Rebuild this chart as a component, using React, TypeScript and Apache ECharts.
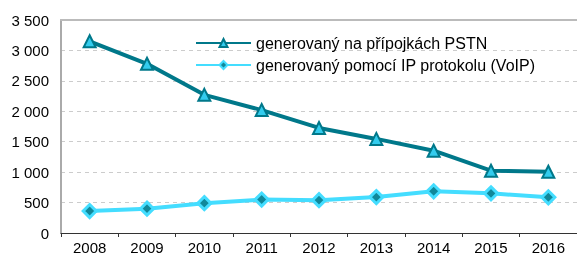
import React, { useEffect, useRef } from "react";
import * as echarts from "echarts";

const categories = ["2008", "2009", "2010", "2011", "2012", "2013", "2014", "2015", "2016"];
const pstnName = "generovaný na přípojkách PSTN";
const voipName = "generovaný pomocí IP protokolu (VoIP)";
const pstnValues = [3150, 2780, 2270, 2020, 1726, 1546, 1352, 1024, 1007];
const voipValues = [361, 400, 490, 550, 540, 590, 685, 652, 587];

const fmt = (v: number) => {
  const s = String(v);
  return s.length > 3 ? s.slice(0, s.length - 3) + " " + s.slice(-3) : s;
};

export default function App() {
  const ref = useRef<HTMLDivElement>(null);
  useEffect(() => {
    if (!ref.current) return;
    const chart = echarts.init(ref.current, undefined, { renderer: "svg" });
    const font = "Liberation Sans, Arial, sans-serif";
    chart.setOption({
      animation: false,
      textStyle: { fontFamily: font },
      grid: { left: 61, right: 0, top: 20, bottom: 24, containLabel: false },
      legend: {
        orient: "vertical",
        left: 190,
        top: 30,
        itemWidth: 55,
        itemHeight: 10,
        itemGap: 6,
        textStyle: { fontSize: 16, color: "#000", fontFamily: font },
        data: [pstnName, voipName],
      },
      xAxis: [
        {
          type: "category",
          data: categories,
          boundaryGap: true,
          axisLine: { lineStyle: { color: "#333", width: 1 } },
          axisTick: { show: true, length: 4, lineStyle: { color: "#333" } },
          axisLabel: { fontSize: 15, color: "#000", margin: 7, fontFamily: font },
          splitLine: { show: false },
        },
        {
          type: "category",
          data: categories,
          position: "top",
          axisLine: { show: true, lineStyle: { color: "#bbb", width: 2 } },
          axisTick: { show: false },
          axisLabel: { show: false },
        },
      ],
      yAxis: {
        type: "value",
        min: 0,
        max: 3500,
        interval: 500,
        axisLine: { show: true, lineStyle: { color: "#aaa", width: 2 } },
        axisTick: { show: false },
        axisLabel: { fontSize: 15, color: "#000", margin: 12, formatter: (v: number) => fmt(v), fontFamily: font },
        splitLine: { show: true, lineStyle: { color: "#ccc", type: [4, 4], width: 1 } },
      },
      series: [
        {
          name: pstnName,
          type: "line",
          data: pstnValues,
          symbol: "triangle",
          symbolSize: 12,
          lineStyle: { color: "#00788a", width: 4 },
          itemStyle: { color: "#33ccee", borderColor: "#00788a", borderWidth: 2 },
        },
        {
          name: voipName,
          type: "line",
          data: voipValues,
          symbol: "diamond",
          symbolSize: 13,
          lineStyle: { color: "#44ddff", width: 4 },
          itemStyle: { color: "#11889a", borderColor: "#44ddff", borderWidth: 3 },
        },
      ],
    });
    return () => chart.dispose();
  }, []);
  return <div ref={ref} style={{ position: "fixed", left: 0, top: 0, width: 577, height: 257 }} />;
}
